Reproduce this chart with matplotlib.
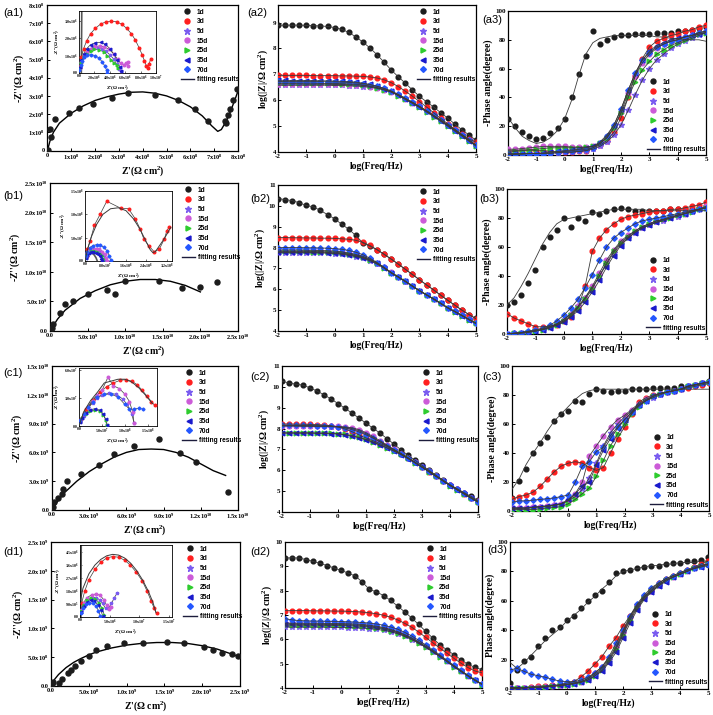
import matplotlib.pyplot as plt
from matplotlib.lines import Line2D

plt.rcParams["font.family"] = "Liberation Serif"
plt.rcParams["font.weight"] = "bold"
plt.rcParams["axes.labelweight"] = "bold"
plt.rcParams["mathtext.fontset"] = "custom"
plt.rcParams["mathtext.rm"] = "Liberation Serif:bold"
plt.rcParams["mathtext.it"] = "Liberation Serif:bold"
plt.rcParams["mathtext.bf"] = "Liberation Serif:bold"
plt.rcParams["axes.unicode_minus"] = False

# %% series style
DAYS = ["1d", "3d", "5d", "15d", "25d", "35d", "70d"]
COLORS = ["#1c1c1c", "#ff1f1f", "#7a5cf0", "#cc5bd8", "#2ecc2e", "#1a1acc", "#2457ff"]
MARKERS = ["o", "o", "*", "o", ">", "<", "D"]
MSIZE = [3.4, 3.4, 4.4, 3.4, 3.4, 3.4, 2.8]

# %% Bode data: log(frequency) grid
LOGF = [-2.0, -1.75, -1.5, -1.25, -1.0, -0.75, -0.5, -0.25, 0.0, 0.25, 0.5, 0.75, 1.0,
        1.25, 1.5, 1.75, 2.0, 2.25, 2.5, 2.75, 3.0, 3.25, 3.5, 3.75, 4.0, 4.25, 4.5, 4.75, 5.0]

# (a2) log|Z|
a2_1d = [8.90, 8.90, 8.90, 8.90, 8.89, 8.88, 8.87, 8.85, 8.81, 8.74, 8.62, 8.45, 8.25, 8.02, 7.76,
         7.47, 7.17, 6.91, 6.66, 6.40, 6.15, 5.94, 5.74, 5.52, 5.31, 5.08, 4.86, 4.66, 4.45]
a2_3d = [6.96, 6.96, 6.96, 6.96, 6.96, 6.95, 6.95, 6.95, 6.95, 6.94, 6.94, 6.93, 6.92, 6.90, 6.86,
         6.79, 6.68, 6.53, 6.35, 6.16, 5.95, 5.74, 5.52, 5.30, 5.09, 4.88, 4.68, 4.50, 4.38]
a2_5d = [6.58, 6.58, 6.58, 6.58, 6.58, 6.58, 6.58, 6.58, 6.57, 6.57, 6.56, 6.55, 6.53, 6.50, 6.46,
         6.40, 6.32, 6.19, 6.05, 5.90, 5.75, 5.58, 5.40, 5.22, 5.04, 4.85, 4.65, 4.45, 4.26]
a2_15d = [6.63, 6.63, 6.63, 6.63, 6.62, 6.62, 6.62, 6.62, 6.61, 6.61, 6.60, 6.59, 6.57, 6.53, 6.48,
          6.41, 6.33, 6.20, 6.06, 5.91, 5.76, 5.59, 5.41, 5.23, 5.05, 4.86, 4.66, 4.46, 4.27]
a2_25d = [6.66, 6.66, 6.66, 6.66, 6.66, 6.66, 6.65, 6.65, 6.65, 6.64, 6.63, 6.62, 6.59, 6.55, 6.49,
          6.41, 6.32, 6.18, 6.03, 5.88, 5.72, 5.55, 5.37, 5.19, 5.00, 4.81, 4.62, 4.42, 4.23]
a2_35d = [6.77, 6.77, 6.76, 6.76, 6.76, 6.76, 6.75, 6.75, 6.74, 6.73, 6.72, 6.70, 6.66, 6.61, 6.54,
          6.45, 6.35, 6.21, 6.06, 5.90, 5.74, 5.57, 5.39, 5.20, 5.02, 4.83, 4.63, 4.43, 4.24]
a2_70d = [6.73, 6.72, 6.72, 6.72, 6.72, 6.72, 6.72, 6.71, 6.71, 6.70, 6.69, 6.67, 6.64, 6.60, 6.54,
          6.46, 6.36, 6.23, 6.08, 5.93, 5.77, 5.60, 5.42, 5.24, 5.05, 4.86, 4.66, 4.46, 4.27]

# (b2) log|Z|
b2_1d = [10.35, 10.30, 10.25, 10.15, 10.02, 9.95, 9.78, 9.58, 9.38, 9.12, 8.88, 8.58, 8.22, 8.06, 7.90,
         7.68, 7.45, 7.21, 6.96, 6.71, 6.46, 6.21, 5.97, 5.72, 5.47, 5.24, 5.00, 4.79, 4.60]
b2_3d = [8.48, 8.48, 8.47, 8.47, 8.46, 8.46, 8.45, 8.45, 8.44, 8.42, 8.40, 8.35, 8.25, 8.10, 7.90,
         7.68, 7.45, 7.21, 6.96, 6.71, 6.46, 6.21, 5.97, 5.72, 5.47, 5.24, 5.00, 4.79, 4.58]
b2_5d = [7.75, 7.75, 7.75, 7.75, 7.75, 7.74, 7.74, 7.73, 7.71, 7.68, 7.63, 7.57, 7.49, 7.37, 7.21,
         7.01, 6.78, 6.58, 6.37, 6.15, 5.93, 5.73, 5.53, 5.32, 5.11, 4.93, 4.74, 4.55, 4.36]
b2_15d = [7.88, 7.88, 7.88, 7.88, 7.87, 7.87, 7.86, 7.85, 7.83, 7.80, 7.74, 7.67, 7.58, 7.45, 7.27,
          7.05, 6.81, 6.60, 6.39, 6.16, 5.94, 5.74, 5.54, 5.33, 5.12, 4.94, 4.75, 4.56, 4.37]
b2_25d = [7.82, 7.82, 7.82, 7.82, 7.82, 7.81, 7.81, 7.80, 7.78, 7.75, 7.70, 7.63, 7.54, 7.41, 7.24,
          7.03, 6.80, 6.59, 6.38, 6.15, 5.93, 5.73, 5.53, 5.32, 5.11, 4.93, 4.74, 4.55, 4.36]
b2_35d = [7.78, 7.78, 7.78, 7.78, 7.78, 7.77, 7.77, 7.76, 7.74, 7.71, 7.66, 7.60, 7.52, 7.40, 7.24,
          7.03, 6.79, 6.59, 6.38, 6.15, 5.93, 5.73, 5.53, 5.32, 5.11, 4.93, 4.74, 4.55, 4.36]
b2_70d = [8.00, 8.00, 8.00, 8.00, 7.99, 7.99, 7.98, 7.97, 7.95, 7.92, 7.86, 7.78, 7.66, 7.49, 7.28,
          7.05, 6.80, 6.60, 6.39, 6.16, 5.94, 5.74, 5.55, 5.33, 5.12, 4.94, 4.75, 4.56, 4.37]

# (c2) log|Z|
c2_1d = [10.28, 10.18, 10.13, 10.08, 9.95, 9.80, 9.62, 9.42, 9.20, 8.97, 8.74, 8.50, 8.26, 8.02, 7.78,
         7.52, 7.25, 6.98, 6.72, 6.48, 6.24, 6.00, 5.76, 5.53, 5.31, 5.12, 4.93, 4.75, 4.56]
c2_3d = [8.22, 8.22, 8.21, 8.21, 8.20, 8.19, 8.17, 8.14, 8.08, 7.98, 7.85, 7.70, 7.55, 7.42, 7.28,
         7.14, 6.98, 6.80, 6.60, 6.38, 6.16, 5.94, 5.72, 5.50, 5.28, 5.08, 4.88, 4.68, 4.48]
c2_5d = [8.12, 8.12, 8.12, 8.11, 8.11, 8.10, 8.10, 8.09, 8.08, 8.05, 8.00, 7.90, 7.75, 7.57, 7.37,
         7.17, 6.97, 6.78, 6.58, 6.37, 6.16, 5.94, 5.72, 5.50, 5.28, 5.08, 4.88, 4.68, 4.49]
c2_15d = [8.14, 8.14, 8.13, 8.13, 8.12, 8.12, 8.12, 8.11, 8.10, 8.08, 8.04, 7.95, 7.80, 7.62, 7.42,
          7.21, 7.00, 6.80, 6.59, 6.38, 6.17, 5.95, 5.73, 5.51, 5.29, 5.09, 4.89, 4.69, 4.51]
c2_25d = [7.80, 7.80, 7.80, 7.80, 7.80, 7.79, 7.79, 7.78, 7.76, 7.72, 7.66, 7.58, 7.48, 7.36, 7.22,
          7.08, 6.93, 6.76, 6.57, 6.36, 6.15, 5.93, 5.71, 5.49, 5.27, 5.07, 4.87, 4.67, 4.47]
c2_35d = [7.78, 7.78, 7.78, 7.78, 7.78, 7.77, 7.77, 7.76, 7.74, 7.70, 7.64, 7.56, 7.46, 7.34, 7.21,
          7.07, 6.92, 6.75, 6.56, 6.36, 6.15, 5.93, 5.71, 5.49, 5.27, 5.07, 4.87, 4.67, 4.48]
c2_70d = [8.16, 8.16, 8.15, 8.15, 8.15, 8.14, 8.13, 8.11, 8.08, 8.03, 7.95, 7.84, 7.70, 7.54, 7.36,
          7.17, 6.98, 6.79, 6.59, 6.38, 6.17, 5.95, 5.73, 5.51, 5.29, 5.09, 4.89, 4.69, 4.50]

# (d2) log|Z|
d2_1d = [9.34, 9.35, 9.34, 9.28, 9.20, 9.12, 9.03, 8.93, 8.83, 8.72, 8.60, 8.35, 8.05, 7.95, 7.80,
         7.60, 7.37, 7.13, 6.88, 6.61, 6.33, 6.05, 5.78, 5.57, 5.37, 5.17, 4.97, 4.85, 4.75]
d2_3d = [7.18, 7.18, 7.18, 7.18, 7.17, 7.17, 7.17, 7.16, 7.16, 7.15, 7.14, 7.12, 7.09, 7.05, 6.99,
         6.91, 6.80, 6.66, 6.50, 6.30, 6.08, 5.86, 5.64, 5.43, 5.22, 5.02, 4.84, 4.70, 4.62]
d2_5d = [6.51, 6.50, 6.50, 6.50, 6.50, 6.50, 6.50, 6.49, 6.49, 6.48, 6.47, 6.46, 6.44, 6.41, 6.37,
         6.31, 6.23, 6.12, 5.99, 5.84, 5.67, 5.49, 5.30, 5.10, 4.89, 4.69, 4.50, 4.32, 4.15]
d2_15d = [6.67, 6.66, 6.66, 6.66, 6.66, 6.66, 6.65, 6.65, 6.65, 6.64, 6.63, 6.61, 6.58, 6.54, 6.49,
          6.41, 6.32, 6.20, 6.06, 5.89, 5.71, 5.52, 5.32, 5.11, 4.90, 4.70, 4.51, 4.33, 4.17]
d2_25d = [6.58, 6.58, 6.58, 6.58, 6.58, 6.58, 6.57, 6.57, 6.57, 6.56, 6.55, 6.53, 6.51, 6.47, 6.42,
          6.35, 6.27, 6.15, 6.01, 5.85, 5.68, 5.49, 5.29, 5.09, 4.88, 4.68, 4.49, 4.31, 4.14]
d2_35d = [6.63, 6.62, 6.62, 6.62, 6.62, 6.62, 6.61, 6.61, 6.61, 6.60, 6.59, 6.57, 6.55, 6.51, 6.46,
          6.39, 6.30, 6.18, 6.04, 5.88, 5.71, 5.52, 5.32, 5.11, 4.90, 4.70, 4.51, 4.33, 4.16]
d2_70d = [6.85, 6.80, 6.77, 6.76, 6.75, 6.75, 6.74, 6.74, 6.73, 6.72, 6.71, 6.69, 6.67, 6.63, 6.58,
          6.51, 6.42, 6.29, 6.14, 5.96, 5.77, 5.57, 5.36, 5.14, 4.93, 4.72, 4.52, 4.33, 4.16]

# (a3) -phase
a3_1d = [25, 20, 16, 13, 11, 12, 15, 19, 25, 40, 56, 69, 86, 77, 80, 82, 83, 83, 84, 84, 84, 85, 85, 85, 86, 86, 87, 88, 89]
a3_1d_fit = [26, 19, 13, 10, 8, 9, 12, 17, 25, 38, 55, 70, 78, 81, 82, 83, 83, 83, 83, 83, 83, 82, 82, 81, 81, 80, 80, 80, 79]
a3_3d = [3, 3, 3.5, 3.5, 3, 3, 2.5, 2, 2, 2, 2.5, 3, 5, 7, 10, 16, 26, 40, 55, 67, 75, 79, 81, 83, 84, 86, 87, 89, 90]
a3_5d = [1, 1, 1, 1, 1, 1, 1, 1.5, 2, 2, 2.5, 3, 4, 6, 9, 14, 21, 31, 42, 52, 60, 66, 70, 74, 77, 79, 81, 83, 85]
a3_15d = [4, 4, 4.5, 5, 5.5, 6, 6, 6, 6, 5.5, 5.5, 5.5, 6, 8, 12, 19, 30, 43, 55, 64, 70, 74, 77, 79, 80, 82, 83, 85, 86]
a3_25d = [2, 2.5, 3, 3.5, 4, 4.5, 5, 5, 5, 5, 5, 5.5, 6, 8, 12, 19, 29, 40, 51, 59, 65, 70, 73, 76, 78, 80, 82, 84, 85]
a3_35d = [0.5, 0.5, 1, 1, 1, 1.5, 2, 2.5, 3, 3.5, 4, 5, 6, 9, 14, 21, 32, 45, 57, 66, 72, 76, 78, 80, 81, 82, 83, 84, 85]
a3_70d = [0.5, 0.5, 0.5, 1, 1, 1, 1.5, 2, 2.5, 3, 3.5, 4, 5, 8, 13, 21, 32, 45, 57, 66, 71, 75, 77, 79, 80, 82, 83, 85, 86]

# (b3) -phase
b3_1d = [20, 22, 27, 35, 44, 60, 67, 72, 80, 74, 80, 78, 84, 83, 85, 86, 87, 86, 85, 85, 85, 85, 85, 86, 86, 86, 86, 87, 88]
b3_1d_fit = [20, 25, 33, 42, 52, 62, 70, 76, 79, 80, 81, 82, 83, 84, 85, 86, 86, 86, 86, 86, 85, 85, 85, 85, 85, 85, 85, 85, 85]
b3_3d = [14, 11, 9, 7, 5, 5, 5.5, 6, 9, 12, 18, 33, 57, 66, 72, 76, 79, 81, 82, 83, 84, 85, 85, 86, 86, 87, 88, 89, 91]
b3_5d = [0, 0.5, 1, 1.5, 2, 3, 5, 7, 10, 14, 19, 25, 32, 40, 48, 56, 62, 66, 70, 73, 75, 77, 78, 80, 81, 83, 84, 86, 87]
b3_15d = [0, 0.5, 1, 1.5, 2.5, 3.5, 5, 7, 10, 14, 19, 25, 33, 42, 51, 58, 64, 68, 71, 74, 76, 78, 79, 81, 82, 83, 85, 86, 88]
b3_25d = [0, 0.5, 1, 1.5, 2, 3, 4.5, 6.5, 9, 13, 18, 24, 31, 40, 49, 57, 63, 67, 71, 74, 76, 78, 79, 80, 82, 83, 84, 86, 87]
b3_35d = [0, 0, 0.5, 1, 2, 3, 4, 6, 8, 12, 16, 22, 29, 37, 46, 54, 61, 66, 70, 73, 75, 77, 79, 80, 82, 83, 85, 86, 87]
b3_70d = [0, 0.5, 1, 2, 3, 4, 6, 9, 13, 18, 24, 32, 41, 51, 60, 66, 70, 73, 76, 78, 79, 80, 81, 82, 83, 84, 85, 86, 87]

# (c3) -phase
c3_1d = [9, 21, 29, 40, 47, 51, 62, 67, 69, 76, 75, 81, 84, 83, 82, 83, 83, 84, 84, 84, 85, 85, 85, 85, 86, 86, 87, 88, 90]
c3_1d_fit = [15, 22, 32, 40, 47, 55, 62, 67, 72, 77, 81, 83, 84, 84, 84, 84, 84, 84, 84, 84, 84, 84, 84, 84, 84, 84, 84, 84, 84]
c3_3d = [8, 10, 11, 13, 17, 22, 27, 31, 33, 34, 33, 30, 28, 30, 40, 50, 58, 67, 75, 78, 80, 81, 82, 83, 84, 85, 86, 87, 88]
c3_5d = [2, 2, 2, 2.5, 3, 3, 4, 5, 7, 10, 15, 23, 33, 45, 54, 60, 65, 69, 73, 76, 78, 80, 82, 83, 84, 86, 87, 88, 89]
c3_15d = [2, 2, 2, 2.5, 3, 3.5, 4, 5, 7, 12, 20, 38, 45, 52, 58, 63, 66, 70, 74, 77, 79, 81, 82, 83, 84, 86, 87, 88, 89]
c3_25d = [1, 1, 1, 1, 1.5, 2, 2.5, 3, 5, 8, 12, 16, 24, 35, 45, 53, 60, 67, 72, 76, 79, 81, 82, 83, 84, 86, 87, 88, 89]
c3_35d = [2, 2, 2, 2.5, 3, 3.5, 4, 5, 8, 12, 17, 20, 32, 42, 50, 57, 63, 68, 73, 76, 79, 81, 82, 83, 84, 86, 87, 88, 89]
c3_70d = [6, 7, 7, 7.5, 8, 8.5, 9, 10, 11, 20, 31, 34, 41, 44, 52, 58, 63, 68, 73, 76, 79, 81, 82, 83, 84, 86, 87, 88, 89]

# (d3) phase
d3_1d = [4, 13, 19, 22, 29, 35, 40, 42, 47, 50, 55, 60, 64, 67, 73, 79, 80, 81, 82, 83, 84, 84, 85, 86, 86, 87, 87, 88, 90]
d3_1d_fit = [18, 14, 18, 23, 28, 33, 37, 41, 46, 50, 54, 59, 63, 68, 72, 77, 80, 81, 82, 83, 84, 84, 85, 85, 86, 86, 86, 87, 87]
d3_3d = [1, 1, 1, 1.5, 2, 2, 2.5, 3, 4, 5, 8, 12, 17, 22, 29, 35, 43, 50, 57, 63, 68, 72, 75, 77, 79, 81, 83, 85, 87]
d3_5d = [0.5, 0.5, 0.5, 1, 1, 1.5, 2, 2, 3, 4, 5, 7, 10, 14, 20, 28, 38, 48, 56, 62, 66, 70, 74, 76, 78, 80, 82, 83, 85]
d3_15d = [1, 1, 1, 1, 1.5, 1.5, 2, 2.5, 3, 4, 5, 7, 11, 15, 21, 29, 39, 49, 57, 63, 67, 71, 74, 76, 78, 80, 82, 84, 85]
d3_25d = [0.5, 0.5, 1, 1, 1, 1.5, 2, 2.5, 3, 3.5, 4.5, 6, 9, 13, 19, 27, 37, 47, 55, 62, 67, 71, 74, 76, 78, 80, 82, 84, 85]
d3_35d = [0.5, 0.5, 1, 1, 1, 1.5, 2, 2.5, 3, 3.5, 4.5, 6, 9, 12, 18, 25, 35, 45, 54, 61, 66, 70, 73, 76, 78, 80, 82, 83, 84]
d3_70d = [13, 14, 12, 10, 9, 8, 6.5, 5.5, 5, 5, 6, 8, 11, 15, 22, 31, 40, 50, 58, 64, 69, 72, 75, 77, 79, 81, 82, 84, 85]

# %% Nyquist, 1d sample (main panels)
a1_zr = [0.04, 0.10, 0.15, 0.30, 0.90, 1.33, 1.90, 2.70, 3.40, 4.50, 5.50, 6.20, 6.75, 7.45, 7.50, 7.58, 7.68, 7.80, 7.95]
a1_zi = [0.00, 1.20, 0.75, 1.75, 2.05, 2.36, 2.55, 2.90, 3.15, 3.05, 2.75, 2.30, 1.60, 1.60, 1.50, 1.95, 2.30, 2.80, 3.40]
a1_fit_r = [0.0, 0.1, 0.25, 0.5, 1.0, 1.5, 2.0, 2.5, 3.0, 3.5, 4.0, 4.5, 5.0, 5.5, 6.0, 6.5, 6.9, 7.15, 7.3, 7.5, 7.7, 7.9, 8.05]
a1_fit_i = [0.0, 0.5, 1.0, 1.5, 2.05, 2.45, 2.75, 2.95, 3.1, 3.2, 3.22, 3.15, 3.0, 2.75, 2.4, 1.9, 1.35, 1.05, 1.15, 1.6, 2.2, 2.9, 3.45]

b1_zr = [0.02, 0.04, 0.13, 0.20, 0.30, 0.50, 0.76, 0.87, 1.00, 1.45, 1.75, 2.00, 2.22]
b1_zi = [0.05, 0.12, 0.31, 0.45, 0.51, 0.62, 0.70, 0.63, 0.84, 0.84, 0.72, 0.75, 0.82]
b1_fit_r = [0.0, 0.1, 0.2, 0.4, 0.6, 0.8, 1.0, 1.2, 1.4, 1.6, 1.8, 2.0]
b1_fit_i = [0.0, 0.2, 0.35, 0.55, 0.68, 0.78, 0.84, 0.87, 0.87, 0.84, 0.77, 0.66]

c1_zr = [0.1, 0.2, 0.5, 0.8, 0.9, 1.2, 2.3, 3.8, 5.0, 6.6, 8.6, 10.3, 11.6, 14.2]
c1_zi = [0.3, 0.8, 1.3, 1.7, 2.2, 3.0, 3.8, 4.7, 5.8, 6.7, 7.4, 5.9, 5.0, 1.9]
c1_fit_r = [0.0, 0.5, 1.0, 2.0, 3.0, 4.0, 5.0, 6.0, 7.0, 8.0, 9.0, 10.0, 11.0, 12.0, 13.0, 14.0]
c1_fit_i = [0.0, 1.0, 1.8, 3.0, 4.0, 4.8, 5.5, 6.0, 6.3, 6.35, 6.3, 6.0, 5.5, 4.8, 4.1, 3.6]

d1_zr = [0.1, 0.3, 1.0, 1.4, 2.3, 2.7, 3.2, 4.0, 5.0, 5.9, 7.4, 9.6, 12.2, 15.4, 17.6, 20.2, 21.4, 22.6, 23.9, 24.8]
d1_zi = [0.4, 0.7, 0.6, 1.2, 2.3, 2.8, 3.4, 4.3, 5.2, 6.2, 6.9, 7.5, 7.5, 7.7, 7.4, 6.8, 6.3, 5.7, 5.5, 5.2]
d1_fit_r = [0.0, 0.5, 1.0, 2.0, 3.0, 4.0, 5.0, 6.0, 8.0, 10.0, 12.0, 14.0, 16.0, 18.0, 20.0, 22.0, 24.0, 25.0]
d1_fit_i = [0.0, 1.2, 2.0, 3.2, 4.1, 4.8, 5.4, 5.9, 6.6, 7.1, 7.4, 7.55, 7.55, 7.4, 7.0, 6.4, 5.5, 5.0]

# %% Nyquist insets (other ages)
a1i_1d_x = [0.30, 0.32, 0.34, 0.36]
a1i_1d_y = [0.0, 1.2, 2.4, 3.6]
a1i_3d_x = [0.1, 0.3, 0.6, 1.0, 1.5, 2.1, 2.8, 3.5, 4.2, 4.9, 5.6, 6.2, 6.8, 7.3, 7.8, 8.2, 8.5, 8.75, 8.9, 9.1, 9.3]
a1i_3d_y = [0.4, 0.9, 1.4, 1.85, 2.25, 2.55, 2.8, 2.93, 2.97, 2.93, 2.78, 2.55, 2.25, 1.9, 1.45, 1.05, 0.7, 0.4, 0.3, 0.5, 0.8]
a1i_5d_x = [0.1, 0.3, 0.6, 1.0, 1.5, 2.0, 2.5, 3.0, 3.5, 4.0, 4.5, 4.9, 5.2, 5.4]
a1i_5d_y = [0.3, 0.6, 0.9, 1.15, 1.35, 1.45, 1.45, 1.4, 1.25, 1.05, 0.8, 0.5, 0.25, 0.1]
a1i_15d_x = [0.1, 0.3, 0.6, 1.0, 1.5, 2.1, 2.7, 3.3, 3.9, 4.5, 5.0, 5.4, 5.8, 6.1, 6.3, 6.4]
a1i_15d_y = [0.3, 0.65, 0.95, 1.2, 1.4, 1.52, 1.55, 1.5, 1.35, 1.1, 0.8, 0.55, 0.45, 0.55, 0.62, 0.4]
a1i_25d_x = [0.1, 0.3, 0.6, 1.0, 1.5, 2.0, 2.6, 3.2, 3.7, 4.2, 4.6, 4.9, 5.1]
a1i_25d_y = [0.3, 0.6, 0.9, 1.1, 1.28, 1.35, 1.33, 1.22, 1.0, 0.75, 0.55, 0.45, 0.3]
a1i_35d_x = [0.1, 0.3, 0.6, 1.0, 1.5, 2.1, 2.8, 3.4, 4.0, 4.5, 4.9, 5.3, 5.5]
a1i_35d_y = [0.35, 0.75, 1.1, 1.4, 1.62, 1.73, 1.75, 1.65, 1.4, 1.1, 0.75, 0.35, 0.1]
a1i_70d_x = [0.05, 0.2, 0.4, 0.7, 1.1, 1.6, 2.1, 2.6, 3.0, 3.35, 3.6, 3.7]
a1i_70d_y = [0.2, 0.45, 0.7, 0.9, 1.02, 1.05, 1.0, 0.85, 0.65, 0.4, 0.15, 0.02]

b1i_1d_x = [0.0, 0.5, 1.2, 2.0, 2.8, 3.6, 4.3, 4.8]
b1i_1d_y = [0.0, 1.0, 1.6, 1.8, 1.7, 1.3, 0.7, 0.0]
b1i_3d_x = [0.7, 0.9, 2.0, 3.7, 5.9, 8.5, 14.0, 17.0, 19.7, 21.6, 23.0, 25.0, 27.0, 29.0, 31.0, 32.0, 32.8]
b1i_3d_y = [1.1, 2.5, 4.3, 7.7, 10.0, 12.8, 11.3, 11.2, 9.0, 6.8, 4.7, 3.2, 2.0, 2.5, 4.7, 6.5, 7.2]
b1i_3d_fit_x = [0.0, 1.0, 2.5, 4.5, 7.0, 10.0, 13.0, 16.0, 19.0, 21.5, 23.5, 25.5, 26.5, 27.5, 29.0, 31.0, 33.5]
b1i_3d_fit_y = [0.0, 2.5, 5.2, 7.8, 10.0, 11.2, 11.4, 10.8, 9.0, 6.8, 4.6, 2.4, 1.8, 2.0, 3.2, 4.8, 7.2]
b1i_5d_x = [0.2, 0.8, 1.7, 2.8, 4.0, 5.2, 6.3, 7.2, 7.8, 8.1]
b1i_5d_y = [0.7, 1.5, 2.1, 2.4, 2.45, 2.3, 1.9, 1.3, 0.7, 0.1]
b1i_15d_x = [0.2, 0.8, 1.8, 3.0, 4.3, 5.6, 6.8, 7.7, 8.3, 8.6]
b1i_15d_y = [0.8, 1.7, 2.3, 2.6, 2.65, 2.5, 2.0, 1.4, 0.7, 0.1]
b1i_25d_x = [0.2, 0.7, 1.5, 2.5, 3.6, 4.7, 5.7, 6.5, 7.0, 7.2]
b1i_25d_y = [0.6, 1.3, 1.8, 2.05, 2.1, 1.95, 1.6, 1.1, 0.5, 0.1]
b1i_35d_x = [0.2, 0.7, 1.4, 2.3, 3.3, 4.3, 5.2, 5.9, 6.3, 6.5]
b1i_35d_y = [0.6, 1.2, 1.7, 1.9, 1.95, 1.8, 1.45, 1.0, 0.5, 0.1]
b1i_70d_x = [0.2, 0.8, 1.8, 3.0, 4.5, 6.0, 7.5, 8.7, 9.5, 10.0]
b1i_70d_y = [1.0, 2.0, 2.8, 3.3, 3.5, 3.4, 2.9, 2.1, 1.1, 0.2]

c1i_3d_x = [0.5, 1.5, 3.0, 4.5, 6.0, 7.5, 9.0, 10.3, 11.5, 12.7, 13.8, 14.8, 15.8, 16.5]
c1i_3d_y = [0.8, 1.8, 2.8, 3.6, 4.2, 4.6, 4.9, 4.95, 4.8, 4.4, 3.8, 3.2, 2.6, 2.2]
c1i_3d_fit_x = [0.0, 1.0, 2.5, 4.0, 5.5, 7.0, 8.5, 10.0, 11.5, 13.0, 14.5, 16.0]
c1i_3d_fit_y = [0.0, 1.5, 2.7, 3.6, 4.6, 4.8, 5.0, 5.0, 4.7, 4.1, 3.3, 2.4]
c1i_5d_x = [0.3, 1.0, 2.0, 3.0, 4.0, 5.0, 6.5, 8.0, 9.5, 10.5, 11.5, 12.0]
c1i_5d_y = [0.4, 1.1, 1.9, 2.5, 3.0, 3.3, 3.5, 3.4, 2.9, 2.3, 1.3, 0.3]
c1i_15d_x = [0.3, 1.0, 2.0, 3.0, 4.0, 5.0, 6.3, 7.5, 8.8, 10.0, 11.0, 11.7, 12.0]
c1i_15d_y = [0.5, 1.3, 2.0, 2.7, 3.3, 3.8, 5.2, 4.3, 4.0, 3.4, 2.6, 1.5, 0.3]
c1i_25d_x = [0.2, 0.7, 1.5, 2.5, 3.5, 4.5, 5.3, 5.9, 6.2]
c1i_25d_y = [0.4, 0.9, 1.3, 1.6, 1.7, 1.6, 1.2, 0.6, 0.1]
c1i_35d_x = [0.2, 0.7, 1.5, 2.5, 3.5, 4.5, 5.3, 5.8, 6.0]
c1i_35d_y = [0.4, 0.9, 1.4, 1.75, 1.85, 1.7, 1.3, 0.7, 0.1]
c1i_70d_x = [0.3, 1.0, 2.0, 3.0, 4.0, 5.5, 7.0, 8.5, 10.0, 11.0, 12.0, 13.0, 14.0]
c1i_70d_y = [0.6, 1.3, 2.0, 2.6, 3.1, 3.4, 3.4, 3.1, 2.3, 1.8, 1.8, 1.9, 1.8]

d1i_1d_x = [0.15, 0.17, 0.19, 0.21]
d1i_1d_y = [0.0, 1.7, 3.4, 5.1]
d1i_3d_x = [0.3, 0.8, 1.5, 2.5, 3.5, 4.5, 5.5, 6.5, 7.5, 8.5, 9.5, 10.5, 11.3, 12.0, 12.5, 12.9]
d1i_3d_y = [1.0, 1.8, 2.6, 3.3, 3.8, 4.1, 4.2, 4.15, 3.95, 3.6, 3.1, 2.5, 1.8, 1.1, 0.6, 0.25]
d1i_3d_fit_x = [0.1, 0.5, 1.5, 2.5, 3.5, 4.5, 5.5, 6.5, 7.5, 8.5, 9.5, 10.5, 11.5, 12.3, 12.8]
d1i_3d_fit_y = [1.2, 2.0, 3.0, 3.6, 4.0, 4.25, 4.35, 4.3, 4.1, 3.75, 3.25, 2.6, 1.8, 1.0, 0.3]
d1i_5d_x = [0.2, 0.6, 1.2, 2.0, 2.7, 3.3, 3.8, 4.3, 4.8, 5.3, 5.8, 6.3]
d1i_5d_y = [0.4, 0.8, 1.15, 1.35, 1.35, 1.2, 0.95, 0.6, 0.6, 0.95, 1.35, 1.7]
d1i_15d_x = [0.2, 0.6, 1.2, 2.0, 2.7, 3.4, 4.0, 4.5, 4.9, 5.3]
d1i_15d_y = [0.5, 1.0, 1.35, 1.55, 1.6, 1.5, 1.2, 0.8, 0.55, 0.7]
d1i_25d_x = [0.2, 0.6, 1.2, 1.9, 2.6, 3.2, 3.7, 4.1]
d1i_25d_y = [0.4, 0.85, 1.15, 1.3, 1.25, 1.0, 0.6, 0.15]
d1i_35d_x = [0.2, 0.6, 1.1, 1.8, 2.4, 3.0, 3.5, 3.8]
d1i_35d_y = [0.35, 0.75, 1.05, 1.15, 1.1, 0.85, 0.5, 0.1]
d1i_70d_x = [0.2, 0.5, 1.0, 1.6, 2.2, 2.7, 3.1, 3.4]
d1i_70d_y = [0.3, 0.65, 0.9, 1.0, 0.95, 0.75, 0.45, 0.1]

# %% tick labels
a1_ticks = [0, 1, 2, 3, 4, 5, 6, 7, 8]
a1_labels = ["0", "1x10$^8$", "2x10$^8$", "3x10$^8$", "4x10$^8$", "5x10$^8$", "6x10$^8$", "7x10$^8$", "8x10$^8$"]
b1_ticks = [0, 0.5, 1.0, 1.5, 2.0, 2.5]
b1_labels = ["0.0", "5.0x10$^9$", "1.0x10$^{10}$", "1.5x10$^{10}$", "2.0x10$^{10}$", "2.5x10$^{10}$"]
c1_ticks = [0, 3, 6, 9, 12, 15]
c1_labels = ["0.0", "3.0x10$^9$", "6.0x10$^9$", "9.0x10$^9$", "1.2x10$^{10}$", "1.5x10$^{10}$"]
d1_ticks = [0, 5, 10, 15, 20, 25]
d1_labels = ["0.0", "5.0x10$^8$", "1.0x10$^9$", "1.5x10$^9$", "2.0x10$^9$", "2.5x10$^9$"]

a1i_xt = [0, 2, 4, 6, 8, 10]
a1i_xl = ["0.0", "2.0x10$^6$", "4.0x10$^6$", "6.0x10$^6$", "8.0x10$^6$", "1.0x10$^7$"]
a1i_yt = [0, 1, 2, 3]
a1i_yl = ["0.0", "1.0x10$^6$", "2.0x10$^6$", "3.0x10$^6$"]
b1i_xt = [0, 8, 16, 24, 32]
b1i_xl = ["0.0", "8.0x10$^7$", "1.6x10$^8$", "2.4x10$^8$", "3.2x10$^8$"]
b1i_yt = [0, 5, 10, 15]
b1i_yl = ["0.0", "5.0x10$^7$", "1.0x10$^8$", "1.5x10$^8$"]
c1i_xt = [0, 5, 10, 15]
c1i_xl = ["0.0", "5.0x10$^7$", "1.0x10$^8$", "1.5x10$^8$"]
c1i_yt = [0, 3, 6]
c1i_yl = ["0.0", "3.0x10$^7$", "6.0x10$^7$"]
d1i_xt = [0, 5, 10, 15]
d1i_xl = ["0.0", "5.0x10$^6$", "1.0x10$^7$", "1.5x10$^7$"]
d1i_yt = [0, 0.9, 1.8, 2.7, 3.6, 4.5]
d1i_yl = ["0.0", "9.0x10$^5$", "1.8x10$^6$", "2.7x10$^6$", "3.6x10$^6$", "4.5x10$^6$"]

# %% figure
W, H = 713, 715
fig = plt.figure(figsize=(W / 100, H / 100), dpi=100)
FIT = "#3a3a3a"
ZLAB = "-Z''(Ω cm$^2$)"
RLAB = "Z'(Ω cm$^2$)"


def px(l, t, r, b):
    return [l / W, 1 - b / H, (r - l) / W, (b - t) / H]


def style(ax, size=5):
    for s in ax.spines.values():
        s.set_linewidth(0.9)
    ax.tick_params(direction="in", length=2.5, width=0.7, labelsize=size, pad=1.5)
    ax.tick_params(which="minor", direction="in", length=1.5, width=0.5)


def legend(ax, anchor, fs=4.8, spacing=0.40):
    hs = [Line2D([], [], ls="none", marker=m, ms=s * 1.05, color=c) for c, m, s in zip(COLORS, MARKERS, MSIZE)]
    hs.append(Line2D([], [], color="#1c1c3c", lw=1.0))
    ax.legend(hs, DAYS + ["fitting results"], loc="upper left", bbox_to_anchor=anchor,
              frameon=False, prop={"family": "Liberation Sans", "weight": "bold", "size": fs},
              handlelength=2.0, handletextpad=0.45, labelspacing=spacing, borderaxespad=0,
              borderpad=0)


def tag(x, y, s):
    fig.text(x / W, 1 - y / H, s, fontsize=8, family="Liberation Sans", weight="normal",
             va="center", ha="left")


def bode(rect, series, fit1d, ylim, yticks, ylabel, anchor):
    ax = fig.add_axes(rect)
    ax.set_zorder(2)
    for i, ys in enumerate(series):
        ax.plot(LOGF, ys, ls="none", marker=MARKERS[i], ms=MSIZE[i], color=COLORS[i], zorder=3)
    for i, ys in enumerate(series):
        line = fit1d if (i == 0 and fit1d is not None) else ys
        ax.plot(LOGF, line, color=FIT, lw=0.6, zorder=4)
    ax.set_xlim(-2, 5)
    ax.set_ylim(*ylim)
    ax.set_xticks([-2, -1, 0, 1, 2, 3, 4, 5])
    ax.set_yticks(yticks)
    ax.set_xlabel("log(Freq/Hz)", fontsize=7, labelpad=1.5)
    ax.set_ylabel(ylabel, fontsize=7, labelpad=1.5)
    style(ax)
    legend(ax, anchor)
    return ax


def nyquist(rect, zr, zi, fr, fi, xlim, ylim, ticks, labels, anchor):
    ax = fig.add_axes(rect)
    ax.plot(fr, fi, color="black", lw=1.0, zorder=2)
    ax.plot(zr, zi, ls="none", marker="o", ms=3.6, color=COLORS[0], zorder=3)
    ax.set_xlim(*xlim)
    ax.set_ylim(*ylim)
    ax.set_xticks(ticks, labels)
    ax.set_yticks(ticks, labels)
    ax.set_xlabel(RLAB, fontsize=7, labelpad=1.5)
    ax.set_ylabel(ZLAB, fontsize=7, labelpad=1.5)
    style(ax, 4.6)
    legend(ax, anchor)
    return ax


def inset(rect, line1d, series, fit3d, xlim, ylim, xt, xl, yt, yl):
    ax = fig.add_axes(rect)
    if line1d is not None:
        ax.plot(line1d[0], line1d[1], color="#555555", lw=1.2, zorder=2)
    for i, (xs, ys) in enumerate(series, start=1):
        ax.plot(xs, ys, color=FIT, lw=0.5, zorder=2)
        ax.plot(xs, ys, ls="none", marker=MARKERS[i], ms=MSIZE[i] * 0.55, color=COLORS[i], zorder=3)
    if fit3d is not None:
        ax.plot(fit3d[0], fit3d[1], color=FIT, lw=0.7, zorder=4)
    ax.set_xlim(*xlim)
    ax.set_ylim(*ylim)
    ax.set_xticks(xt, xl)
    ax.set_yticks(yt, yl)
    ax.set_xlabel(RLAB, fontsize=3.6, labelpad=0.5)
    ax.set_ylabel(ZLAB, fontsize=3.6, labelpad=0.5)
    for s in ax.spines.values():
        s.set_linewidth(0.6)
    ax.tick_params(direction="in", length=1.2, width=0.4, labelsize=2.8, pad=0.8)
    return ax


# column 1: Nyquist
nyquist(px(47, 5, 238, 151), a1_zr, a1_zi, a1_fit_r, a1_fit_i, (-0.02, 8.0), (-0.03, 8.0),
        a1_ticks, a1_labels, (0.70, 0.975))
nyquist(px(50, 183, 238, 331), b1_zr, b1_zi, b1_fit_r, b1_fit_i, (0, 2.5), (0, 2.5),
        b1_ticks, b1_labels, (0.70, 0.975))
nyquist(px(52, 366, 238, 510), c1_zr, c1_zi, c1_fit_r, c1_fit_i, (0, 15), (0, 15),
        c1_ticks, c1_labels, (0.70, 0.975))
nyquist(px(51, 542, 240, 686), d1_zr, d1_zi, d1_fit_r, d1_fit_i, (0, 25), (0, 25),
        d1_ticks, d1_labels, (0.70, 0.975))

inset(px(79, 11, 156, 73), (a1i_1d_x, a1i_1d_y),
      [(a1i_3d_x, a1i_3d_y), (a1i_5d_x, a1i_5d_y), (a1i_15d_x, a1i_15d_y), (a1i_25d_x, a1i_25d_y),
       (a1i_35d_x, a1i_35d_y), (a1i_70d_x, a1i_70d_y)], None,
      (0, 10.0), (0, 3.55), a1i_xt, a1i_xl, a1i_yt, a1i_yl)
inset(px(85, 191, 172, 261), (b1i_1d_x, b1i_1d_y),
      [(b1i_3d_x, b1i_3d_y), (b1i_5d_x, b1i_5d_y), (b1i_15d_x, b1i_15d_y), (b1i_25d_x, b1i_25d_y),
       (b1i_35d_x, b1i_35d_y), (b1i_70d_x, b1i_70d_y)], (b1i_3d_fit_x, b1i_3d_fit_y),
      (0, 34), (0, 15), b1i_xt, b1i_xl, b1i_yt, b1i_yl)
inset(px(79, 368, 157, 426), None,
      [(c1i_3d_x, c1i_3d_y), (c1i_5d_x, c1i_5d_y), (c1i_15d_x, c1i_15d_y), (c1i_25d_x, c1i_25d_y),
       (c1i_35d_x, c1i_35d_y), (c1i_70d_x, c1i_70d_y)], (c1i_3d_fit_x, c1i_3d_fit_y),
      (0, 17), (0, 6.2), c1i_xt, c1i_xl, c1i_yt, c1i_yl)
inset(px(80, 545, 172, 617), (d1i_1d_x, d1i_1d_y),
      [(d1i_3d_x, d1i_3d_y), (d1i_5d_x, d1i_5d_y), (d1i_15d_x, d1i_15d_y), (d1i_25d_x, d1i_25d_y),
       (d1i_35d_x, d1i_35d_y), (d1i_70d_x, d1i_70d_y)], (d1i_3d_fit_x, d1i_3d_fit_y),
      (0, 15.5), (0, 5.0), d1i_xt, d1i_xl, d1i_yt, d1i_yl)

# column 2: |Z|
ZL = "log(|Z|/Ω cm$^2$)"
bode(px(278, 5, 476, 152), [a2_1d, a2_3d, a2_5d, a2_15d, a2_25d, a2_35d, a2_70d], None,
     (4, 9.68), [4, 5, 6, 7, 8, 9], ZL, (0.70, 0.975))
bode(px(278, 185, 476, 331), [b2_1d, b2_3d, b2_5d, b2_15d, b2_25d, b2_35d, b2_70d], None,
     (4, 11), [4, 5, 6, 7, 8, 9, 10, 11], ZL, (0.70, 0.975))
bode(px(282, 366, 478, 512), [c2_1d, c2_3d, c2_5d, c2_15d, c2_25d, c2_35d, c2_70d], None,
     (4, 11), [4, 5, 6, 7, 8, 9, 10, 11], ZL, (0.70, 0.975))
bode(px(285, 542, 482, 688), [d2_1d, d2_3d, d2_5d, d2_15d, d2_25d, d2_35d, d2_70d], None,
     (4, 10), [4, 5, 6, 7, 8, 9, 10], ZL, (0.70, 0.975))

# column 3: phase
PL = "-Phase angle(degree)"
PT = [0, 20, 40, 60, 80, 100]
bode(px(508, 11, 706, 155), [a3_1d, a3_3d, a3_5d, a3_15d, a3_25d, a3_35d, a3_70d], a3_1d_fit,
     (0, 100), PT, PL, (0.70, 0.53))
bode(px(507, 189, 706, 334), [b3_1d, b3_3d, b3_5d, b3_15d, b3_25d, b3_35d, b3_70d], b3_1d_fit,
     (0, 100), PT, PL, (0.70, 0.53))
bode(px(512, 366, 709, 511), [c3_1d, c3_3d, c3_5d, c3_15d, c3_25d, c3_35d, c3_70d], c3_1d_fit,
     (0, 100), PT, PL, (0.70, 0.53))
bode(px(510, 542, 708, 689), [d3_1d, d3_3d, d3_5d, d3_15d, d3_25d, d3_35d, d3_70d], d3_1d_fit,
     (0, 100), PT, "Phase angle(degree)", (0.70, 0.53))

for x, y, s in [(3, 13, "(a1)"), (247, 13, "(a2)"), (482, 20, "(a3)"),
                (3, 196, "(b1)"), (250, 199, "(b2)"), (479, 199, "(b3)"),
                (3, 373, "(c1)"), (250, 377, "(c2)"), (482, 377, "(c3)"),
                (3, 552, "(d1)"), (250, 552, "(d2)"), (487, 550, "(d3)")]:
    tag(x, y, s)

fig.savefig("out.png", dpi=100, facecolor="white")
